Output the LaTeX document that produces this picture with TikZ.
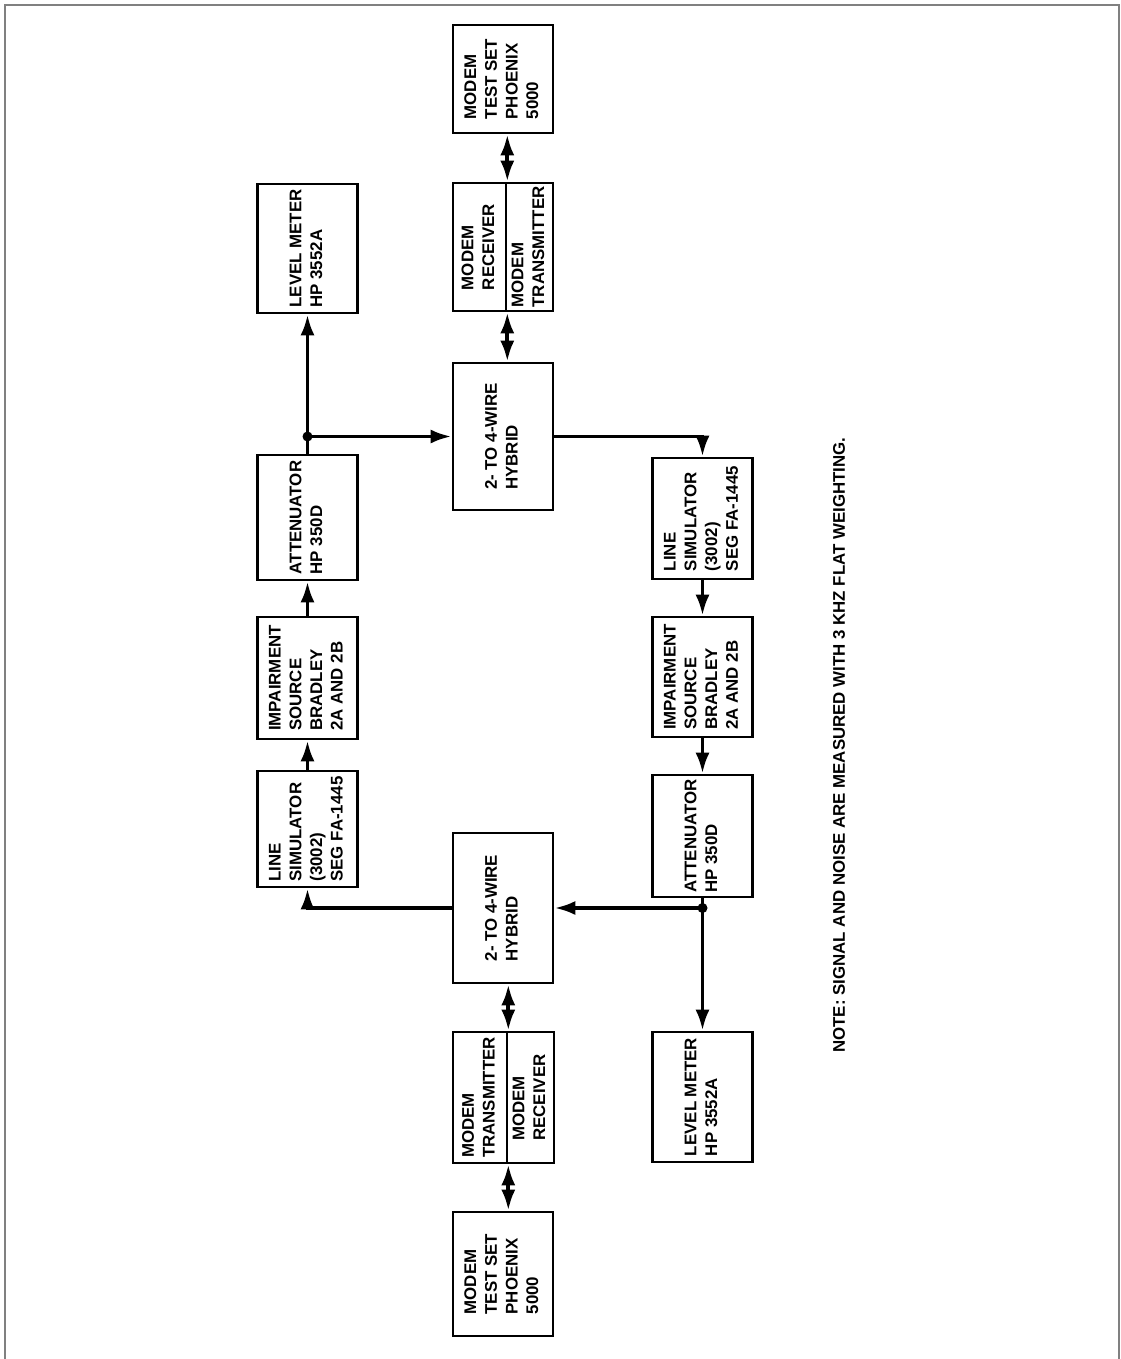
\documentclass[tikz,border=0pt]{standalone}
\usepackage{fontspec}
\usepackage{graphicx}
\setmainfont{Liberation Sans}
\usetikzlibrary{arrows.meta}
\newcommand{\vlines}[1]{\rotatebox{90}{\begin{tabular}{@{}l@{}}#1\end{tabular}}}

\begin{document}
\begin{tikzpicture}[x=0.02cm, y=-0.02cm,
  >={Latex[length=0.42cm,width=0.28cm]},
  box/.style={draw, line width=1.5pt, inner sep=0pt, minimum width=2cm},
  wire/.style={line width=2.2pt},
  every node/.style={font=\fontsize{9.6}{11.8}\selectfont\bfseries}]

\useasboundingbox (0,0) rectangle (1121,1359);
\draw[gray, line width=0.8pt] (5,1359) -- (5,5) -- (1119,5) -- (1119,1359);

\node[box, minimum height=2.16cm] (setup) at (503,79) {\vlines{MODEM\\TEST SET\\PHOENIX\\5000}};
\node[box, minimum width=1.06cm, minimum height=2.56cm] (rxup) at (479.5,247) {\vlines{MODEM\\RECEIVER}};
\node[box, minimum width=0.94cm, minimum height=2.56cm] (txup) at (529.5,247) {\vlines{MODEM\\TRANSMITTER}};
\node[box, minimum height=2.94cm] (hybup) at (503,436.5) {\vlines{2- TO 4-WIRE\\HYBRID}};

\node[box, minimum height=2.58cm] (lvlA) at (307.5,248.5) {\vlines{LEVEL METER\\HP 3552A}};
\node[box, minimum height=2.5cm] (attA) at (307.5,517.5) {\vlines{ATTENUATOR\\HP 350D}};
\node[box, minimum height=2.44cm] (impA) at (307.5,678) {\vlines{IMPAIRMENT\\SOURCE\\BRADLEY\\2A AND 2B}};
\node[box, minimum height=2.32cm] (simA) at (307.5,829) {\vlines{LINE\\SIMULATOR\\(3002)\\SEG FA-1445}};

\node[box, minimum height=3cm] (hyblow) at (503,908) {\vlines{2- TO 4-WIRE\\HYBRID}};
\node[box, minimum width=1.08cm, minimum height=2.62cm] (txlow) at (480,1097.5) {\vlines{MODEM\\TRANSMITTER}};
\node[box, minimum width=0.94cm, minimum height=2.62cm] (rxlow) at (530.5,1097.5) {\vlines{MODEM\\RECEIVER}};
\node[box, minimum height=2.48cm] (setlow) at (503,1274) {\vlines{MODEM\\TEST SET\\PHOENIX\\5000}};

\node[box, minimum height=2.42cm] (simB) at (702.5,518.5) {\vlines{LINE\\SIMULATOR\\(3002)\\SEG FA-1445}};
\node[box, minimum height=2.4cm] (impB) at (702.5,677) {\vlines{IMPAIRMENT\\SOURCE\\BRADLEY\\2A AND 2B}};
\node[box, minimum height=2.44cm] (attB) at (702.5,836) {\vlines{ATTENUATOR\\HP 350D}};
\node[box, minimum height=2.6cm] (lvlB) at (702.5,1097) {\vlines{LEVEL METER\\HP 3552A}};

\node[rotate=90] (note) at (839,745) {NOTE: SIGNAL AND NOISE ARE MEASURED WITH 3 KHZ FLAT WEIGHTING.};

\coordinate (jA) at (attA.north |- hybup.west);
\coordinate (jB) at (attB.south |- hyblow.east);

\draw[wire, ->] (hyblow.west) -| (simA.south);
\foreach \a/\b in {simA/impA, impA/attA} {\draw[wire, ->] (\a.north) -- (\b.south);}
\draw[wire] (attA.north) -- (jA);
\draw[wire, ->] (jA) -- (lvlA.south);
\draw[wire, ->] (jA) -- (hybup.west);
\fill (jA) circle (0.1cm);

\draw[wire, ->] (hybup.east) -| (simB.north);
\foreach \a/\b in {simB/impB, impB/attB} {\draw[wire, ->] (\a.south) -- (\b.north);}
\draw[wire] (attB.south) -- (jB);
\draw[wire, ->] (jB) -- (lvlB.north);
\draw[wire, ->] (jB) -- (hyblow.east);
\fill (jB) circle (0.1cm);

\draw[wire, <->] (setup.south -| rxup.north east) -- (rxup.north east);
\draw[wire, <->] (rxup.south east) -- (rxup.south east |- hybup.north);
\draw[wire, <->] (hyblow.south -| txlow.north east) -- (txlow.north east);
\draw[wire, <->] (txlow.south east) -- (txlow.south east |- setlow.north);

\end{tikzpicture}
\end{document}
